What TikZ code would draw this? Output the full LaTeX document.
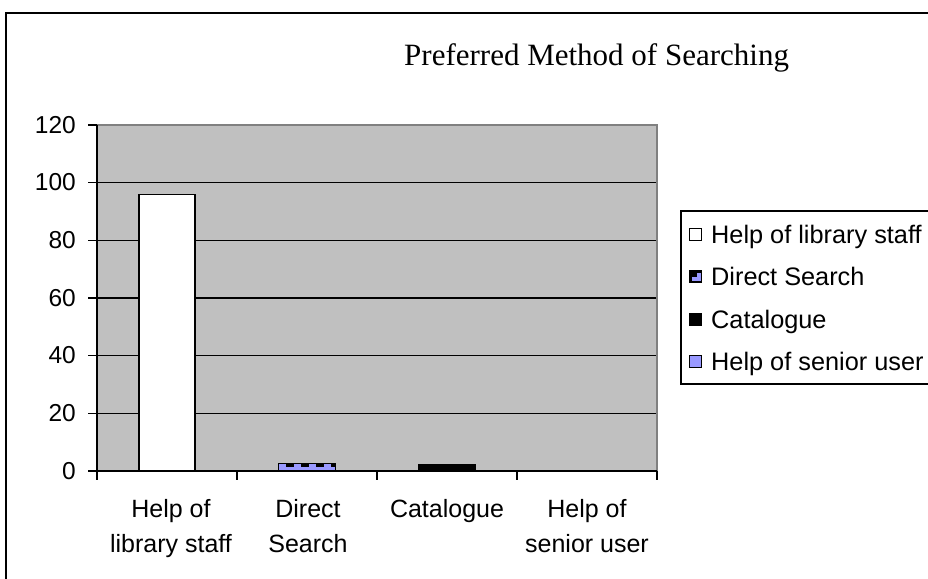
\documentclass[tikz,border=0pt]{standalone}
\usepackage{fontspec}
\setmainfont{Liberation Serif}
\newfontfamily\arialf{Liberation Sans}
\definecolor{plotgray}{RGB}{192,192,192}
\definecolor{bordergray}{RGB}{128,128,128}
\definecolor{periwinkle}{RGB}{153,153,255}
\tikzset{
  axislbl/.style={font=\arialf\fontsize{24.5}{28}\selectfont, inner sep=0pt, anchor=base east},
  catlbl/.style={font=\arialf\fontsize{25}{35}\selectfont, inner sep=0pt, align=center, anchor=north},
  leglbl/.style={font=\arialf\fontsize{25.3}{30}\selectfont, inner sep=0pt, anchor=base west},
  gridln/.style={line width=1.4pt, black},
  legmark/.style={draw=black, line width=1pt, minimum size=12pt, inner sep=0pt},
}
\begin{document}
\begin{tikzpicture}[x=1pt,y=-1pt]
\clip (0,0) rectangle (928,578);
\fill[white] (0,0) rectangle (928,578);
% outer frame
\draw[line width=2.2pt] (6,600) -- (6,13) -- (960,13);
% title
\node[font=\fontsize{31}{36}\selectfont, inner sep=0pt, anchor=base west] (title) at (404,66) {Preferred Method of Searching};
% plot area
\fill[plotgray] (97,125) rectangle (657,471);
\foreach \v in {20,40,60,80,100} {
  \draw[gridln] (97,{471-\v*2.8833}) -- (657,{471-\v*2.8833});
}
\draw[bordergray, line width=1.5pt] (97,125) -- (657,125) -- (657,471);
% bars
\filldraw[fill=white, draw=black, line width=1.4pt] (139,471) rectangle (195,{471-96*2.8833});
\filldraw[fill=periwinkle, draw=black, line width=1pt] (278,471) rectangle (335,463);
\draw[black, line width=3pt, dash pattern=on 8pt off 7pt] (286,465) -- (335,465);
\fill[black] (418,471) rectangle (476,464);
% axes
\draw[line width=1.4pt] (97,125) -- (97,471) -- (657,471);
\foreach \v in {0,20,40,60,80,100,120} {
  \draw[line width=1.4pt] (88,{471-\v*2.8833}) -- (97,{471-\v*2.8833});
  \node[axislbl] (y\v) at (76,{471-\v*2.8833+8}) {\v};
}
\foreach \x in {97,237,377,517,657} {
  \draw[line width=1.4pt] (\x,471) -- (\x,480);
}
% category labels
\node[catlbl] (c1) at (171,499) {Help of\\library staff};
\node[catlbl] (c2) at (308,499) {Direct\\Search};
\node[catlbl] (c3) at (447,499) {Catalogue};
\node[catlbl] (c4) at (587,499) {Help of\\senior user};
% legend
\filldraw[fill=white, draw=black, line width=1.4pt] (681,211) rectangle (960,384);
\node[legmark, fill=white] (m1) at (695,234) {};
\node[legmark, fill=black] (m2) at (695,276) {};
\fill[periwinkle] (692,273) rectangle (701,281);
\fill[black] (692,273) rectangle (697,277);
\node[legmark, fill=black] (m3) at (695,319) {};
\node[legmark, fill=periwinkle] (m4) at (695,361) {};
\node[leglbl] (l1) at (711,243) {Help of library staff};
\node[leglbl] (l2) at (711,285) {Direct Search};
\node[leglbl] (l3) at (711,328) {Catalogue};
\node[leglbl] (l4) at (711,370) {Help of senior user};
\end{tikzpicture}
\end{document}
